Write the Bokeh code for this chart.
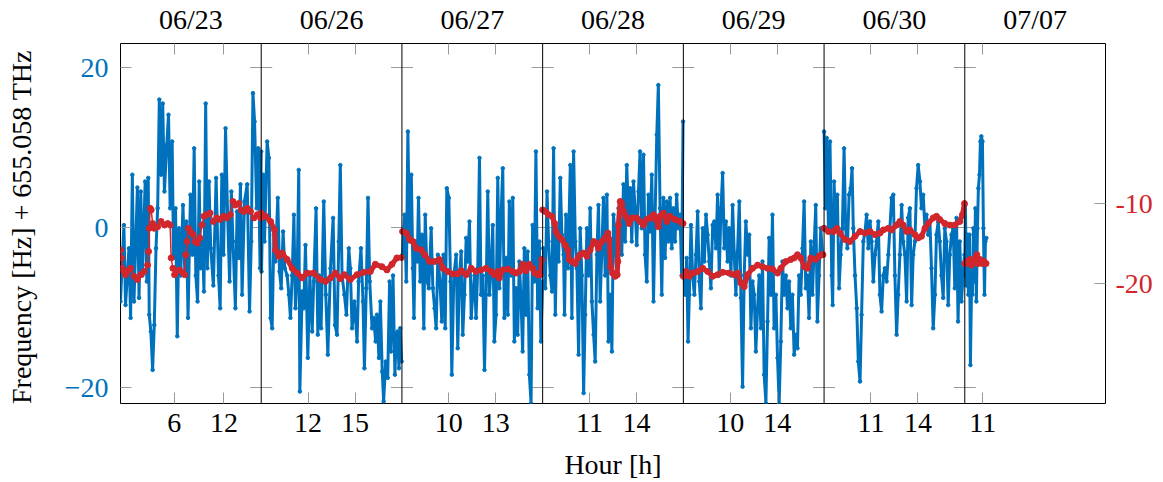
import math
from bokeh.plotting import figure
from bokeh.models import Range1d, LinearAxis, FixedTicker, Span
from bokeh.embed import file_html
from bokeh.resources import INLINE

BLUE = "#0072BD"
RED = "#D1262C"
GREY = "#9a9a9a"
FONT = "Liberation Serif"
FSIZE = "28px"

# ---------------- axis layout (one panel per date) ----------------
dates = ["06/23", "06/26", "06/27", "06/28", "06/29", "06/30", "07/07"]
hour_ranges = [(-0.5, 16.5), (9, 18), (7, 16), (8, 17), (6, 18), (8, 17), (9.85, 18.85)]
hour_ticks = [[6, 12], [12, 15], [10, 13], [11, 14], [10, 14], [11, 14], [11]]
left_ticks = [-20, 0, 20]
right_ticks = [-20, -10]

# ---------------- blue series: frequency offset [Hz] ----------------
hours_0623 = [-0.5, -0.09, 0.11, 0.52, 0.72, 0.93, 1.13, 1.54, 1.74, 1.95, 2.15, 2.48, 2.68, 2.85, 2.97, 3.17, 3.38, 3.58, 3.79, 3.99, 4.19, 4.4, 4.6, 4.81, 5.09, 5.3, 5.5, 5.74, 5.91, 6.15, 6.36, 6.56, 6.77, 7.05, 7.26, 7.46, 7.66, 7.95, 8.19, 8.4, 8.6, 8.81, 9.01, 9.17, 9.42, 9.58, 9.79, 9.99, 10.19, 10.4, 10.72, 11.05, 11.34, 11.54, 11.74, 11.95, 12.19, 12.44, 12.68, 12.89, 13.09, 13.38, 13.58, 13.79, 13.99, 14.19, 14.48, 14.81, 15.09, 15.3, 15.5, 15.7, 15.95, 16.15, 16.36, 16.5]
freq_0623 = [-9.25, 0.3, -9.7, -2.6, -11.3, 6.6, -9.25, 5, -8.8, 4.5, -6, 5.75, -6.75, 6.2, -10.9, -13, -17.8, -12.2, -2.6, 2.4, 16, 6.6, 15.5, 4.5, 10.3, 14.1, 2.4, 10.75, -3.8, 2.4, -13.6, -0.1, -6, 2.8, -5.5, 0.75, -11.3, 4.1, -3.4, 9.9, -6, -9.25, 5.75, -5.1, -1.75, -8, 15.5, -5.1, 5.75, -2.6, -7.25, 6.2, -6, -10.1, 6.6, -3.4, 12.4, 1.6, -6.75, 4.5, -1.75, -10.1, 2, -3.8, 5.4, -8.4, 3.25, 5.4, -10.5, -1.75, 16.8, 13.25, 2.4, 9.9, -5.1, 9.5]

hours_0626 = [9.02, 9.13, 9.21, 9.38, 9.49, 9.6, 9.7, 9.81, 9.91, 10.06, 10.17, 10.28, 10.4, 10.51, 10.66, 10.77, 10.87, 10.98, 11.09, 11.19, 11.3, 11.4, 11.47, 11.62, 11.72, 11.83, 11.98, 12.11, 12.26, 12.36, 12.51, 12.62, 12.7, 12.83, 13.0, 13.13, 13.26, 13.43, 13.6, 13.72, 13.85, 13.96, 14.06, 14.17, 14.32, 14.45, 14.6, 14.7, 14.81, 14.96, 15.13, 15.23, 15.38, 15.51, 15.6, 15.72, 15.83, 15.94, 16.09, 16.19, 16.32, 16.4, 16.53, 16.62, 16.74, 16.83, 16.96, 17.09, 17.21, 17.3, 17.43, 17.55, 17.64, 17.72, 17.81, 17.89, 17.98]
freq_0626 = [-5.5, 6.6, -1.75, 10.75, 8.7, -11.3, -12.6, -0.9, -4.25, 3.7, -5.5, -7.6, -0.5, -5.1, -6, -8.4, -11.3, -6, 1.6, -10.1, -6, 7.2, -20.5, -8, -10.1, -2.2, -16.3, -6, -13, -6.75, 2.4, -13.4, -6, -12.6, 3.25, -8.4, -15.9, -5.1, 1.2, -12.2, -13.4, -1.75, 7.8, -6, -8.4, -10.9, -2.6, -5.1, -12.6, -9.25, -14.25, -6.75, -2.6, -9.25, -17.6, -7.6, 3.7, -6.75, -12.6, -11.3, -14.25, -10.9, -16.3, -9.25, -18, -21.75, -16.75, -18.8, -6.75, -15.5, -6, -18.4, -13.4, -13, -17.6, -12.6, -16.75]

hours_0627 = [7.04, 7.17, 7.28, 7.38, 7.49, 7.6, 7.7, 7.77, 7.85, 7.98, 8.06, 8.17, 8.28, 8.4, 8.49, 8.62, 8.72, 8.87, 8.98, 9.09, 9.19, 9.3, 9.43, 9.55, 9.66, 9.77, 9.87, 10.0, 10.11, 10.19, 10.32, 10.47, 10.57, 10.68, 10.79, 10.89, 11.0, 11.11, 11.21, 11.32, 11.43, 11.53, 11.64, 11.74, 11.85, 11.96, 12.06, 12.17, 12.28, 12.38, 12.49, 12.6, 12.7, 12.81, 12.91, 13.02, 13.13, 13.23, 13.34, 13.45, 13.55, 13.66, 13.77, 13.87, 13.98, 14.09, 14.19, 14.3, 14.4, 14.51, 14.62, 14.72, 14.83, 14.94, 15.04, 15.15, 15.26, 15.36, 15.47, 15.57, 15.68, 15.79, 15.89, 16.0]
freq_0627 = [-3.4, 1.6, -6.75, 12, -1.75, 6.6, -5.1, -11.3, -1.75, -4.25, 3.7, -6.75, -0.9, -12.6, 1.6, -6.75, -7.6, -0.1, -7.6, -10.1, -12.6, -3.4, -6.75, -11.75, -3.4, -12.6, 4.9, 3.7, -6.75, -18.4, -6, -3.4, -15.1, -6, -3, -13.4, -8.4, -1.3, -4.25, 0.75, -11.3, -8.4, -6, -11.3, -5.1, 8.7, -8.4, -6, -17.8, -8.4, 4.5, -8.4, -5.1, 0.3, -14.25, -10.9, 6.2, -7.6, 1.6, 7.4, -11.3, -3.8, -10.9, 3.25, -6, 3.7, -14.25, -7.6, -13.4, -4.25, -9.25, -15.5, -2.6, -10.9, -3, -18.4, -22, 0.3, -6.75, 9.5, -10.1, -1.75, -14.25, -6.75]

hours_0628 = [8.04, 8.17, 8.28, 8.38, 8.49, 8.6, 8.7, 8.81, 8.91, 9.02, 9.13, 9.23, 9.34, 9.4, 9.49, 9.62, 9.77, 9.87, 9.98, 10.09, 10.19, 10.3, 10.4, 10.51, 10.62, 10.72, 10.83, 10.94, 11.04, 11.15, 11.26, 11.36, 11.47, 11.57, 11.68, 11.79, 11.89, 12.0, 12.11, 12.21, 12.32, 12.43, 12.53, 12.64, 12.74, 12.85, 12.96, 13.06, 13.17, 13.28, 13.38, 13.49, 13.6, 13.7, 13.81, 13.91, 14.02, 14.13, 14.23, 14.34, 14.45, 14.55, 14.66, 14.77, 14.87, 14.98, 15.09, 15.19, 15.3, 15.4, 15.51, 15.62, 15.72, 15.83, 15.94, 16.04, 16.15, 16.26, 16.36, 16.47, 16.57, 16.68, 16.79, 16.89, 16.98]
freq_0628 = [-2.6, -7.6, 4.5, -1.75, -6, -8, 9.9, -10.9, -0.1, -4.25, 6.2, -0.9, -3.4, -10.9, 1.6, -5.1, 7.8, -11.3, 9.5, -1.75, -5.1, -15.9, -0.1, -6, -20.7, -10.9, -0.1, -6, 2.4, -9.25, -13.4, -16.75, -3.4, 2.8, -9.25, -2.6, 3.7, -6, 4.1, -14.25, -8.4, -15.5, 1.6, -0.9, -6, 2.4, -0.1, -3.4, 5.4, -1.75, 7.8, 1.6, 4.9, -1.75, 5.75, 2.4, -2.2, 4.5, 9.5, -0.1, 9.1, -3.4, -6.75, 4.1, -0.5, 6.6, -9.25, 1.2, 11.6, 17.8, 2.4, -8.4, 3.7, -3.8, 3.25, -1.75, 3.7, -2.6, 2.4, -1.75, 4.1, -0.1, 1.6, -6, 13.25]

hours_0629 = [6.06, 6.17, 6.28, 6.4, 6.51, 6.65, 6.79, 6.94, 7.08, 7.22, 7.36, 7.5, 7.65, 7.79, 7.93, 8.07, 8.21, 8.35, 8.5, 8.64, 8.78, 8.92, 9.06, 9.21, 9.35, 9.49, 9.63, 9.77, 9.91, 10.06, 10.2, 10.34, 10.48, 10.62, 10.77, 10.91, 11.05, 11.19, 11.33, 11.48, 11.62, 11.76, 11.9, 12.04, 12.18, 12.33, 12.47, 12.61, 12.75, 12.89, 13.04, 13.18, 13.32, 13.46, 13.6, 13.74, 13.89, 14.03, 14.17, 14.31, 14.45, 14.6, 14.74, 14.88, 15.02, 15.16, 15.3, 15.45, 15.59, 15.73, 15.87, 16.01, 16.16, 16.3, 16.44, 16.58, 16.72, 16.87, 17.01, 17.15, 17.29, 17.43, 17.57, 17.72, 17.86]
freq_0629 = [-6, -8.4, -3.8, -14.25, -8.4, 0.3, -6, -8.4, -3.4, 2, -6.75, -10.1, -0.1, -4.25, 1.6, -0.9, -4.25, -7.6, 0.3, 0.75, -2.6, 4.1, -6, 2.4, 6.8, -2.6, 0.75, -4.25, -0.1, -6, 2.8, -3.4, -8.4, -3, 3.25, -8.8, -19.9, -6, 0.75, -3.4, -0.9, -12.6, -6.75, -8.4, -15.5, -10.1, -6, -12.6, -4.25, -18.4, -22, -11.75, -1.3, -8.4, 1.6, -12.6, -8.4, -16.3, -22, -14.25, -4.25, -8.4, -6, -10.1, -6.75, -12.6, -8.4, -15.9, -13.4, -15.1, -6, -8.4, -2.6, 3.25, -7.6, -6, -11.3, -1.75, -8.4, -2.6, 2.8, -11.75, -6, -0.1, -3.4]

hours_0630 = [8.0, 8.09, 8.17, 8.28, 8.38, 8.49, 8.55, 8.64, 8.74, 8.85, 8.96, 9.06, 9.17, 9.28, 9.38, 9.49, 9.6, 9.7, 9.79, 9.87, 9.98, 10.09, 10.19, 10.3, 10.4, 10.51, 10.62, 10.72, 10.83, 10.94, 11.04, 11.15, 11.26, 11.36, 11.47, 11.57, 11.68, 11.79, 11.89, 12.0, 12.11, 12.21, 12.32, 12.43, 12.53, 12.64, 12.74, 12.85, 12.96, 13.06, 13.17, 13.28, 13.38, 13.49, 13.6, 13.7, 13.81, 13.91, 14.02, 14.13, 14.23, 14.34, 14.45, 14.55, 14.66, 14.77, 14.87, 14.98, 15.09, 15.19, 15.3, 15.4, 15.51, 15.62, 15.72, 15.83, 15.94, 16.04, 16.15, 16.26, 16.36, 16.47, 16.57, 16.68, 16.79, 16.89, 16.98]
freq_0630 = [12, 2.4, 11.2, -0.1, 10.75, -6, -9.7, 5.75, -0.1, 4.1, -7.6, -3.4, -0.1, 9.9, -0.1, -2.6, 4.1, 4.9, 7.4, -0.1, -6, -10.1, -16.75, -19.25, -10.9, -1.75, -0.5, 1.6, -2.6, 0.75, -1.75, -6.75, -3.4, -1.75, 0.75, -8.4, -10.5, -6, -5.1, -6.75, -3.4, -0.1, 3.7, 4.1, -6, -13.4, -8.4, -3.4, 2.8, -1.75, -3.4, -9.25, 1.2, 2.4, -9.7, -3.4, -1.75, 4.9, 7.8, 5.75, 2.4, 4.1, -0.1, 1.6, -0.9, 0.75, -5.1, -12.6, -8.4, -0.9, 0.75, -1.75, -6, -8.8, -0.1, -1.75, -9.7, -3.4, -0.9, -0.1, -7.6, 1.2, -11.75, -1.75, -9.25, -6, -3.4]

hours_0707 = [9.85, 9.89, 9.96, 10.02, 10.08, 10.15, 10.21, 10.28, 10.34, 10.4, 10.47, 10.53, 10.59, 10.66, 10.72, 10.79, 10.85, 10.91, 10.98, 11.04, 11.11, 11.17, 11.23]
freq_0707 = [-5.5, 2.8, -7.25, -0.9, -8.4, -0.9, -17.2, -7.6, -8.4, -0.1, -6.75, 2.4, -9.25, -0.1, 4.9, 6.6, 10.75, 11.4, 10.75, -0.1, -8.4, -1.75, -1.3]

# ---------------- red series (right axis) ----------------
red_hours_0623 = [-0.5, -0.38, -0.3, -0.09, 0.11, 0.32, 0.72, 1.13, 1.54, 1.95, 2.36, 2.77, 2.89, 2.97, 3.09, 3.21, 3.38, 3.58, 3.99, 4.4, 4.81, 5.21, 5.5, 5.62, 5.83, 6.03, 6.23, 6.64, 7.05, 7.26, 7.38, 7.54, 7.7, 7.95, 8.28, 8.52, 8.77, 9.09, 9.34, 9.58, 9.91, 10.32, 10.72, 11.13, 11.54, 11.95, 12.36, 12.77, 13.09, 13.38, 13.79, 14.07, 14.4, 14.81, 15.21, 15.62, 16.03, 16.44]
red_0623 = [-15.8, -16.8, -18.1, -18.5, -18.9, -18.5, -18.1, -19.1, -19.5, -18.9, -18.5, -17.7, -16, -13.1, -10.6, -10.8, -12.5, -13.1, -12.9, -12.25, -12.7, -12.5, -12.7, -16.8, -18.1, -18.9, -18.5, -18.3, -18.7, -18.9, -16.4, -14.75, -13.1, -13.5, -13.9, -14.75, -14.95, -14.3, -12.7, -11.6, -11.4, -11.2, -12.25, -11.8, -12, -11.6, -11.8, -11.4, -9.75, -10.2, -10, -10.8, -11, -10.6, -11, -11.8, -11.4, -11.8]

red_hours_0626 = [9.0, 9.28, 9.6, 9.85, 9.91, 10.13, 10.34, 10.66, 10.98, 11.3, 11.62, 11.94, 12.36, 12.79, 13.11, 13.43, 13.74, 14.06, 14.32, 14.7, 15.13, 15.55, 15.98, 16.3, 16.72, 17.04, 17.36, 17.68, 17.98]
red_0626 = [-11.2, -11.6, -12.25, -13.3, -15.8, -16.6, -16.2, -17, -18.1, -18.7, -19.3, -18.7, -18.7, -19.5, -19.75, -19.3, -18.7, -19.4, -18.9, -19.5, -18.9, -18.6, -18.5, -17.6, -17.9, -18.3, -17.6, -16.8, -16.75]

red_hours_0627 = [7.04, 7.28, 7.49, 7.7, 7.91, 8.23, 8.45, 8.77, 9.09, 9.4, 9.62, 9.94, 10.26, 10.57, 10.79, 11.11, 11.43, 11.74, 12.06, 12.38, 12.7, 12.91, 13.13, 13.23, 13.45, 13.77, 14.09, 14.3, 14.51, 14.72, 14.94, 15.15, 15.36, 15.51, 15.68, 15.85, 15.94]
red_0627 = [-13.5, -13.7, -14.5, -14.75, -15.6, -15.8, -16.4, -17.25, -17.25, -17, -18.1, -18.5, -18.8, -18.8, -18.4, -18.9, -18.1, -18.5, -18.3, -18.1, -18.5, -18.9, -18.5, -19.3, -18.3, -18.2, -18.5, -18.7, -18.5, -17.6, -18.4, -17.6, -18.1, -18.7, -18.9, -18.9, -17]

red_hours_0628 = [8.0, 8.17, 8.38, 8.6, 8.77, 8.85, 9.02, 9.23, 9.45, 9.62, 9.7, 9.87, 10.09, 10.26, 10.4, 10.62, 10.83, 11.04, 11.26, 11.4, 11.57, 11.79, 12.0, 12.17, 12.26, 12.34, 12.47, 12.64, 12.77, 12.81, 12.85, 12.96, 13.06, 13.17, 13.32, 13.53, 13.74, 14.02, 14.23, 14.45, 14.66, 14.87, 15.09, 15.23, 15.4, 15.51, 15.72, 15.94, 16.15, 16.47, 16.79, 16.98]
red_0628 = [-10.8, -11, -11.4, -11.6, -12.5, -13.5, -14.1, -14.5, -15.2, -15.8, -17, -17.25, -17.5, -16.8, -16.4, -16.2, -16.6, -15.8, -14.75, -14.95, -15.6, -14.75, -14.3, -13.7, -14.5, -17.9, -18.7, -19.1, -18.9, -17.25, -12.7, -9.75, -10, -11, -11.6, -12.5, -11.8, -11.8, -12.25, -12.7, -12, -11.8, -11.4, -12, -12.9, -11.6, -11.2, -12.25, -11.6, -12, -12.25, -12.5]

red_hours_0629 = [6.0, 6.23, 6.51, 6.79, 7.22, 7.65, 8.07, 8.5, 8.92, 9.35, 9.91, 10.34, 10.62, 10.91, 11.19, 11.48, 11.9, 12.33, 12.75, 13.18, 13.6, 14.03, 14.31, 14.74, 15.16, 15.45, 15.73, 16.01, 16.3, 16.58, 16.87, 17.29, 17.57, 17.8, 17.91]
red_0629 = [-19.1, -18.5, -19.1, -18.7, -18.5, -18.1, -18.5, -19.1, -18.9, -18.6, -18.7, -18.9, -18.7, -19.95, -20.4, -18.9, -18.1, -17.7, -17.9, -18.1, -18.2, -18.7, -18.1, -17.25, -17, -16.8, -16.4, -16.8, -17.9, -18.1, -16.8, -17, -16.6, -16.4, -16.4]

red_hours_0630 = [8.0, 8.28, 8.6, 8.81, 9.02, 9.34, 9.66, 9.98, 10.3, 10.62, 10.94, 11.26, 11.57, 11.79, 12.11, 12.32, 12.64, 12.85, 13.06, 13.28, 13.49, 13.81, 14.02, 14.23, 14.45, 14.66, 14.98, 15.19, 15.4, 15.72, 16.04, 16.36, 16.68, 16.85, 16.98]
red_0630 = [-13.1, -13.5, -13.5, -13.1, -13.7, -14.5, -14.75, -14.1, -13.5, -13.7, -13.5, -13.9, -13.7, -13.3, -13.1, -13.3, -12.7, -12.25, -12.7, -13.5, -13.3, -13.9, -14.3, -14.1, -13.1, -12.5, -11.8, -11.6, -12, -12.5, -12.7, -12.7, -12.25, -11.4, -10]

red_hours_0707 = [9.85, 9.98, 10.11, 10.19, 10.28, 10.4, 10.53, 10.62, 10.7, 10.83, 10.96, 11.08, 11.21]
red_0707 = [-17.5, -17.25, -17.5, -17, -17.7, -17.25, -16.8, -16.4, -17.5, -17, -17.5, -17.25, -17.5]

blue_hours = [hours_0623, hours_0626, hours_0627, hours_0628, hours_0629, hours_0630, hours_0707]
blue_freq = [freq_0623, freq_0626, freq_0627, freq_0628, freq_0629, freq_0630, freq_0707]
red_hours = [red_hours_0623, red_hours_0626, red_hours_0627, red_hours_0628, red_hours_0629, red_hours_0630, red_hours_0707]
red_vals = [red_0623, red_0626, red_0627, red_0628, red_0629, red_0630, red_0707]


def gx(i, h):
    h0, h1 = hour_ranges[i]
    return round(i + (h - h0) / (h1 - h0), 6)


p = figure(frame_width=985, frame_height=360,
           x_range=Range1d(0, 7), y_range=Range1d(-22, 23),
           x_axis_location=None, y_axis_location=None,
           output_backend="svg", toolbar_location=None,
           min_border_left=120, min_border_right=42,
           min_border_top=34, min_border_bottom=72)
p.extra_y_ranges = {"red": Range1d(-35, 10)}
p.outline_line_color = "black"
p.outline_line_width = 1
p.background_fill_color = "white"
p.border_fill_color = "white"
p.grid.visible = False
p.xgrid.visible = False
p.ygrid.visible = False


def style(ax, size=FSIZE):
    ax.axis_line_color = None
    ax.major_tick_in = 11
    ax.major_tick_out = 0
    ax.minor_tick_in = 0
    ax.minor_tick_out = 0
    ax.major_tick_line_color = GREY
    ax.major_tick_line_width = 1
    ax.major_label_text_font = FONT
    ax.major_label_text_font_size = size
    ax.axis_label_text_font = FONT
    ax.axis_label_text_font_size = FSIZE
    ax.axis_label_text_font_style = "normal"
    ax.axis_label_text_color = "black"


# bottom hour axis
xt, xlab = [], {}
for i, ticks in enumerate(hour_ticks):
    for t in ticks:
        xv = gx(i, t)
        xt.append(xv)
        xlab[xv] = str(t)

bottom = LinearAxis(ticker=FixedTicker(ticks=xt, minor_ticks=[]), major_label_overrides=xlab,
                    axis_label="Hour [h]")
style(bottom)
bottom.major_label_standoff = 10
bottom.axis_label_standoff = 14
bottom.major_label_text_color = "black"
p.add_layout(bottom, "below")

# top hour ticks (no labels)
top_ticks = LinearAxis(ticker=FixedTicker(ticks=xt, minor_ticks=[]))
style(top_ticks, size="0px")
top_ticks.major_label_standoff = 0
top_ticks.major_label_text_alpha = 0
p.add_layout(top_ticks, "above")

# top date labels
centers = [i + 0.5 for i in range(len(dates))]
date_axis = LinearAxis(ticker=FixedTicker(ticks=centers, minor_ticks=[]),
                       major_label_overrides={c: d for c, d in zip(centers, dates)})
style(date_axis)
date_axis.major_tick_in = 0
date_axis.major_tick_line_color = None
date_axis.major_label_standoff = 9
date_axis.major_label_text_color = "black"
p.add_layout(date_axis, "above")

# left frequency axis
left = LinearAxis(ticker=FixedTicker(ticks=left_ticks, minor_ticks=[]),
                  major_label_overrides={t: (str(t).replace("-", "\u2212")) for t in left_ticks},
                  axis_label="Frequency [Hz] + 655.058  THz")
style(left)
left.major_label_text_color = BLUE
left.major_label_standoff = 12
left.axis_label_standoff = 25
p.add_layout(left, "left")

# right axis (red)
right = LinearAxis(y_range_name="red", ticker=FixedTicker(ticks=right_ticks, minor_ticks=[]),
                   major_label_overrides={t: str(t) for t in right_ticks})
style(right)
right.major_label_text_color = RED
right.major_label_standoff = 10
p.add_layout(right, "right")

# panel separators and their tick marks
sx, sy = [], []
for i in range(1, len(dates)):
    p.add_layout(Span(location=i, dimension="height", line_color="black", line_width=1))
    for t in left_ticks:
        sx.append(i)
        sy.append(t)
p.ray(x=sx, y=sy, length=11, length_units="screen", angle=0, line_color=GREY, line_width=1)
p.ray(x=sx, y=sy, length=11, length_units="screen", angle=math.pi, line_color=GREY, line_width=1)

# data
for i in range(len(dates)):
    n = min(len(blue_hours[i]), len(blue_freq[i]))
    xs = [gx(i, h) for h in blue_hours[i][:n]]
    ys = blue_freq[i][:n]
    p.line(xs, ys, line_color=BLUE, line_width=3)
    p.scatter(xs, ys, size=3.5, color=BLUE)

for i in range(len(dates)):
    n = min(len(red_hours[i]), len(red_vals[i]))
    xs = [gx(i, h) for h in red_hours[i][:n]]
    ys = red_vals[i][:n]
    p.line(xs, ys, line_color=RED, line_width=(1.5 if i == 0 else 5), y_range_name="red")
    p.scatter(xs, ys, size=6, color=RED, y_range_name="red")

open("out.html", "w").write(file_html(p, INLINE, title="Frequency"))
